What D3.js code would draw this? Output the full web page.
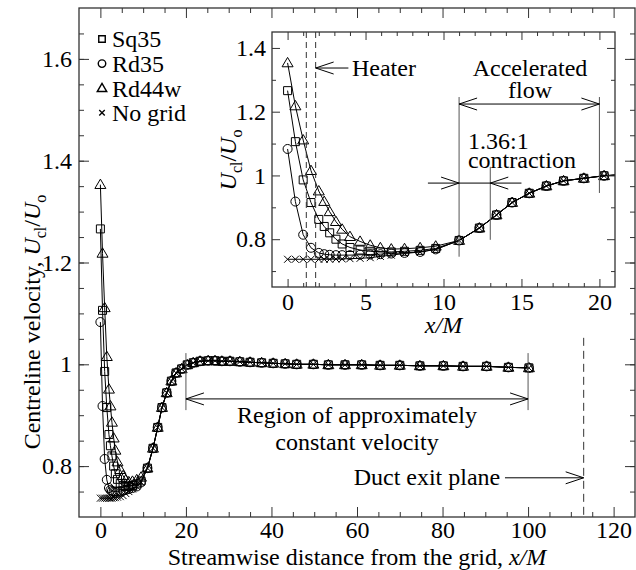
<!DOCTYPE html>
<html>
<head>
<meta charset="utf-8">
<script src="https://cdn.jsdelivr.net/npm/d3@7"></script>
<style>
  body { margin: 0; background: #fff; }
  text { font-family: "Liberation Serif", "Times New Roman", serif; fill: #000; }
</style>
</head>
<body>
<div id="chart"></div>
<script>
// ---- data ----
const seriesNames = ["Sq35", "Rd35", "Rd44w", "No grid"];
const markerTypes = ["square", "circle", "triangle", "cross"];

// near-grid stations (x/M) where the series differ
const earlyX = [0, 0.5, 1, 1.5, 2, 2.35, 2.7, 3.1, 3.5, 4, 4.65, 5.3, 5.95, 6.65, 7.5, 8.5, 9.5];
const sq35Early = [1.266, 1.106, 0.986, 0.915, 0.862, 0.840, 0.820, 0.800, 0.785, 0.774, 0.766, 0.762, 0.760, 0.760, 0.762, 0.765, 0.771];
const rd35Early = [1.083, 0.918, 0.814, 0.773, 0.757, 0.753, 0.751, 0.750, 0.750, 0.750, 0.751, 0.752, 0.753, 0.755, 0.757, 0.760, 0.768];
const rd44wEarly = [1.353, 1.218, 1.111, 1.015, 0.951, 0.918, 0.886, 0.855, 0.831, 0.808, 0.793, 0.781, 0.773, 0.769, 0.770, 0.773, 0.778];
const noGridEarly = [0.737, 0.737, 0.737, 0.737, 0.737, 0.737, 0.737, 0.738, 0.738, 0.739, 0.740, 0.742, 0.746, 0.750, 0.755, 0.760, 0.768];

// downstream stations where all series collapse
const tailX = [11, 12.3, 13.4, 14.4, 15.5, 16.6, 17.7, 19.0, 20.3, 21.7, 23.3, 25.2, 26.8, 28.4, 30.3, 32.6, 35.0, 37.7,
               40.4, 43.2, 45.9, 49.8, 53.3, 57.2, 61.1, 65.4, 70.0, 74.7, 80.2, 84.8, 90.3, 95.4, 100.2];
const tailY = [0.796, 0.835, 0.876, 0.915, 0.944, 0.967, 0.983, 0.991, 0.999, 1.003, 1.006, 1.007, 1.007, 1.006, 1.006, 1.005, 1.004, 1.003,
               1.002, 1.001, 1.000, 1.000, 0.999, 0.999, 0.999, 0.998, 0.998, 0.997, 0.997, 0.996, 0.996, 0.994, 0.993];

const mainXTicks = [0, 20, 40, 60, 80, 100, 120];
const mainYTicks = [0.8, 1, 1.2, 1.4, 1.6];
const insetXTicks = [0, 5, 10, 15, 20];
const insetYTicks = [0.8, 1, 1.2, 1.4];

const earlyBySeries = [sq35Early, rd35Early, rd44wEarly, noGridEarly];
const series = seriesNames.map((name, i) => ({
    name: name,
    marker: markerTypes[i],
    values: earlyX.concat(tailX).map((x, j) => ({x: x, y: earlyBySeries[i].concat(tailY)[j]}))
}));

// ---- layout ----
const width = 636, height = 570;
const fontSize = 24;
const subSize = 16;
const frameColor = "#333";

const svg = d3.select("#chart").append("svg")
    .attr("width", width)
    .attr("height", height);

const mainX = d3.scaleLinear().domain([-5, 125]).range([79, 635]);
const mainY = d3.scaleLinear().domain([0.7, 1.7]).range([517, 8]);
const insetX = d3.scaleLinear().domain([-1, 21]).range([272, 615]);
const insetY = d3.scaleLinear().domain([0.65, 1.45]).range([287, 32]);

const fmt = d3.format("~g");

function styleAxis(g) {
    g.select(".domain").remove();
    g.attr("font-size", fontSize)
        .attr("font-family", '"Liberation Serif", "Times New Roman", serif')
        .attr("color", frameColor);
    g.selectAll("text").attr("fill", "#000");
}

// inward ticks on all four sides, labels on bottom and left only
function drawAxes(g, x, y, cfg) {
    const [x0, x1] = x.range();
    const [y0, y1] = y.range();

    g.append("rect")
        .attr("x", x0).attr("y", y1)
        .attr("width", x1 - x0).attr("height", y0 - y1)
        .attr("fill", "none")
        .attr("stroke", frameColor)
        .attr("stroke-width", 1.3);

    const sets = [
        {vals: cfg.xMajor, len: cfg.major, lab: true},
        {vals: cfg.xMinor, len: cfg.minor, lab: false}
    ];
    sets.forEach(s => {
        g.append("g").attr("transform", "translate(0," + y0 + ")")
            .call(d3.axisBottom(x).tickValues(s.vals).tickSize(-s.len).tickSizeOuter(0)
                .tickPadding(cfg.padX).tickFormat(s.lab ? fmt : ""))
            .call(styleAxis);
        g.append("g").attr("transform", "translate(0," + y1 + ")")
            .call(d3.axisTop(x).tickValues(s.vals).tickSize(-s.len).tickSizeOuter(0).tickFormat(""))
            .call(styleAxis);
    });

    const ysets = [
        {vals: cfg.yMajor, len: cfg.major, lab: true},
        {vals: cfg.yMinor, len: cfg.minor, lab: false}
    ];
    ysets.forEach(s => {
        g.append("g").attr("transform", "translate(" + x0 + ",0)")
            .call(d3.axisLeft(y).tickValues(s.vals).tickSize(-s.len).tickSizeOuter(0)
                .tickPadding(cfg.padY).tickFormat(s.lab ? fmt : ""))
            .call(styleAxis);
        g.append("g").attr("transform", "translate(" + x1 + ",0)")
            .call(d3.axisRight(y).tickValues(s.vals).tickSize(-s.len).tickSizeOuter(0).tickFormat(""))
            .call(styleAxis);
    });
}

function markerPath(type, s) {
    const h = s / 2;
    if (type === "square") return `M${-h},${-h}H${h}V${h}H${-h}Z`;
    if (type === "circle") {
        const r = h + 0.5;
        return `M${r},0A${r},${r} 0 1,1 ${-r},0A${r},${r} 0 1,1 ${r},0Z`;
    }
    if (type === "triangle") {
        const t = h + 1.5;
        return `M0,${-t}L${t},${t * 0.7}L${-t},${t * 0.7}Z`;
    }
    return `M${-h + 0.5},${-h + 0.5}L${h - 0.5},${h - 0.5}M${h - 0.5},${-h + 0.5}L${-h + 0.5},${h - 0.5}`;
}

function drawSeries(g, x, y, size) {
    const line = d3.line().x(d => x(d.x)).y(d => y(d.y));
    series.forEach(s => {
        const sg = g.append("g");
        sg.append("path")
            .attr("d", line(s.values))
            .attr("fill", "none")
            .attr("stroke", "#000")
            .attr("stroke-width", 1);
        sg.selectAll("path.pt")
            .data(s.values)
            .enter()
            .append("path")
            .attr("class", "pt")
            .attr("transform", d => "translate(" + x(d.x) + "," + y(d.y) + ")")
            .attr("d", markerPath(s.marker, size))
            .attr("fill", "none")
            .attr("stroke", "#000")
            .attr("stroke-width", 1);
    });
}

function arrowHead(g, tx, ty, dir) {
    // open V head, dir = +1 points right, -1 points left
    const L = 18, H = 6;
    g.append("path")
        .attr("d", `M${tx - dir * L},${ty - H}L${tx},${ty}L${tx - dir * L},${ty + H}`)
        .attr("fill", "none")
        .attr("stroke", "#000")
        .attr("stroke-width", 1);
}

function hLine(g, xa, xb, yy, color) {
    g.append("line").attr("x1", xa).attr("x2", xb).attr("y1", yy).attr("y2", yy)
        .attr("stroke", color || "#000").attr("stroke-width", 1);
}

function vLine(g, xx, ya, yb, color, dash) {
    g.append("line").attr("x1", xx).attr("x2", xx).attr("y1", ya).attr("y2", yb)
        .attr("stroke", color || "#000").attr("stroke-width", 1)
        .attr("stroke-dasharray", dash || null);
}

function label(g, x, y, txt, anchor) {
    return g.append("text")
        .attr("x", x).attr("y", y)
        .attr("font-size", fontSize)
        .attr("text-anchor", anchor || "start")
        .text(txt);
}

// U_cl/U_o with subscripts
function velocityRatio(t) {
    t.append("tspan").attr("font-style", "italic").text("U");
    t.append("tspan").attr("font-size", subSize).attr("dy", 6).text("cl");
    t.append("tspan").attr("dy", -6).text("/");
    t.append("tspan").attr("font-style", "italic").text("U");
    t.append("tspan").attr("font-size", subSize).attr("dy", 6).text("o");
}

// ---- main plot ----
const mainG = svg.append("g");
drawAxes(mainG, mainX, mainY, {
    xMajor: mainXTicks, xMinor: d3.range(0, 125, 5).filter(v => v % 20 !== 0),
    yMajor: mainYTicks, yMinor: d3.range(0.75, 1.7, 0.05),
    major: 10, minor: 5, padX: 4, padY: 7
});
drawSeries(mainG, mainX, mainY, 8);

// region of approximately constant velocity
vLine(mainG, mainX(20), mainY(1.022), mainY(0.91), "#555");
vLine(mainG, mainX(100), mainY(1.022), mainY(0.91), "#555");
hLine(mainG, mainX(20), mainX(100), mainY(0.932));
arrowHead(mainG, mainX(20), mainY(0.932), -1);
arrowHead(mainG, mainX(100), mainY(0.932), 1);
label(mainG, mainX(60), mainY(0.885), "Region of approximately", "middle");
label(mainG, mainX(60), mainY(0.832), "constant velocity", "middle");

// duct exit
vLine(mainG, mainX(113), mainY(1.052), mainY(0.7), "#333", "8,5");
hLine(mainG, mainX(94.6), mainX(113), mainY(0.777));
arrowHead(mainG, mainX(113), mainY(0.777), 1);
label(mainG, mainX(93.5), mainY(0.762), "Duct exit plane", "end");

// axis titles
mainG.append("text")
    .attr("x", (mainX.range()[0] + mainX.range()[1]) / 2)
    .attr("y", 565)
    .attr("font-size", fontSize)
    .attr("text-anchor", "middle")
    .call(t => {
        t.append("tspan").text("Streamwise distance from the grid, ");
        t.append("tspan").attr("font-style", "italic").text("x/M");
    });

mainG.append("text")
    .attr("transform", "translate(40,322) rotate(-90)")
    .attr("font-size", fontSize)
    .attr("text-anchor", "middle")
    .call(t => {
        t.append("tspan").text("Centreline velocity, ");
        velocityRatio(t);
    });

// legend
const legendG = mainG.append("g");
seriesNames.forEach((name, i) => {
    const cy = 39 + i * 24.6;
    legendG.append("path")
        .attr("transform", "translate(102," + cy + ")")
        .attr("d", markerPath(markerTypes[i], 6.5))
        .attr("fill", "none")
        .attr("stroke", "#000")
        .attr("stroke-width", 1.4);
    label(legendG, 112, cy, name).attr("dy", "0.35em");
});

// ---- inset ----
const insetG = svg.append("g");
insetG.append("clipPath").attr("id", "insetClip")
    .append("rect")
    .attr("x", insetX.range()[0]).attr("y", insetY.range()[1])
    .attr("width", insetX.range()[1] - insetX.range()[0])
    .attr("height", insetY.range()[0] - insetY.range()[1]);

insetG.append("rect")
    .attr("x", insetX.range()[0]).attr("y", insetY.range()[1])
    .attr("width", insetX.range()[1] - insetX.range()[0])
    .attr("height", insetY.range()[0] - insetY.range()[1])
    .attr("fill", "#fff");

const insetData = insetG.append("g").attr("clip-path", "url(#insetClip)");
drawSeries(insetData, insetX, insetY, 8);

drawAxes(insetG, insetX, insetY, {
    xMajor: insetXTicks, xMinor: d3.range(0, 21, 1).filter(v => v % 5 !== 0),
    yMajor: insetYTicks, yMinor: [0.7, 0.9, 1.1, 1.3],
    major: 8, minor: 4, padX: 6, padY: 6
});

// heater
[1.2, 1.8].forEach(h => vLine(insetG, insetX(h), insetY(1.45), insetY(0.65), "#333", "6,4"));
hLine(insetG, insetX(1.8), insetX(3.9), insetY(1.337));
arrowHead(insetG, insetX(1.8), insetY(1.337), -1);
label(insetG, insetX(4.13), insetY(1.312), "Heater");

// accelerated flow
vLine(insetG, insetX(11), insetY(1.246), insetY(0.745), "#555");
vLine(insetG, insetX(20), insetY(1.246), insetY(0.945), "#555");
hLine(insetG, insetX(11), insetX(20), insetY(1.224));
arrowHead(insetG, insetX(11), insetY(1.224), -1);
arrowHead(insetG, insetX(20), insetY(1.224), 1);
label(insetG, insetX(15.55), insetY(1.312), "Accelerated", "middle");
label(insetG, insetX(15.55), insetY(1.243), "flow", "middle");

// contraction
vLine(insetG, insetX(13), insetY(1.027), insetY(0.798), "#555");
hLine(insetG, insetX(9), insetX(15), insetY(0.976));
arrowHead(insetG, insetX(11), insetY(0.976), 1);
arrowHead(insetG, insetX(13), insetY(0.976), -1);
label(insetG, insetX(11.57), insetY(1.083), "1.36:1");
label(insetG, insetX(11.57), insetY(1.023), "contraction");

// inset axis titles
insetG.append("text")
    .attr("x", (insetX.range()[0] + insetX.range()[1]) / 2)
    .attr("y", 333)
    .attr("font-size", fontSize)
    .attr("text-anchor", "middle")
    .attr("font-style", "italic")
    .text("x/M");

insetG.append("text")
    .attr("transform", "translate(236,160) rotate(-90)")
    .attr("font-size", fontSize)
    .attr("text-anchor", "middle")
    .call(velocityRatio);
</script>
</body>
</html>
